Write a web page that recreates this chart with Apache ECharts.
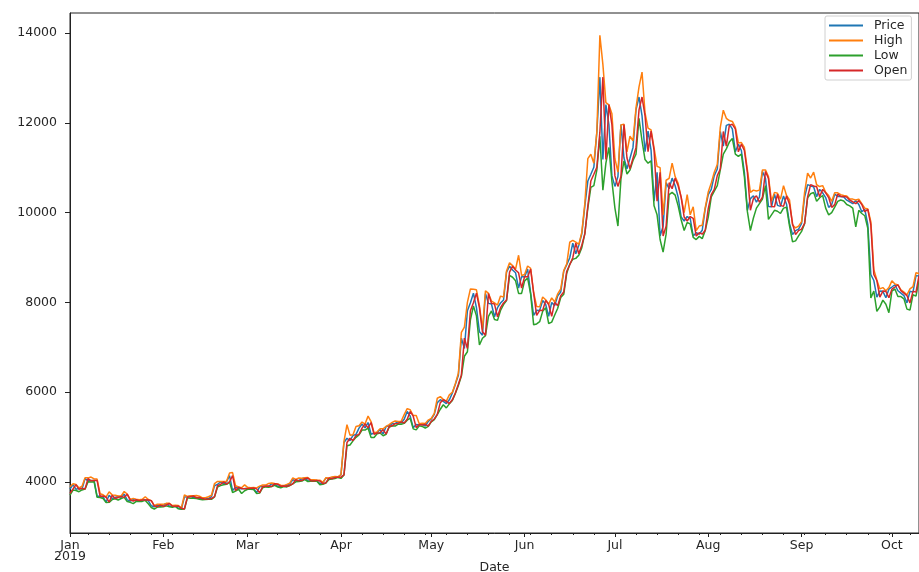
<!DOCTYPE html>
<html>
<head>
<meta charset="utf-8">
<script src="https://cdn.jsdelivr.net/npm/echarts@6/dist/echarts.min.js"></script>
<style>
  html, body { margin: 0; padding: 0; background: #fff; }
  #btcChart { width: 919px; height: 572px; }
</style>
</head>
<body>
<div id="btcChart"></div>
<script>
// daily values, 2019-01-01 .. 2019-10-10
const price = [
  3844, 3943, 3837, 3858, 3845, 4077, 4025, 4031, 4035, 3679, 3687, 3661, 3553, 3706, 3631, 3655, 3679, 3658, 3729, 3601, 3576, 3605, 3585, 3601, 3600, 3602, 3584, 3470, 3448, 3486, 3458,
  3488, 3521, 3464, 3459, 3466, 3414, 3399, 3667, 3671, 3690, 3648, 3654, 3632, 3617, 3621, 3630, 3674, 3916, 3947, 4000, 3954, 4006, 4143, 3810, 3883, 3854, 3851, 3855,
  3860, 3864, 3847, 3762, 3896, 3904, 3911, 3901, 3963, 3952, 3905, 3909, 3907, 3924, 3961, 4049, 4025, 4033, 4071, 4087, 4029, 4024, 4036, 4022, 3963, 3985, 4087, 4069, 4098, 4107, 4105,
  4158, 4880, 4973, 4923, 5037, 5060, 5199, 5290, 5205, 5325, 5064, 5090, 5097, 5168, 5067, 5236, 5252, 5298, 5304, 5338, 5315, 5399, 5572, 5465, 5211, 5279, 5268, 5285, 5247, 5351,
  5403, 5505, 5768, 5831, 5796, 5747, 5830, 5982, 6175, 6379, 7205, 6972, 7815, 7994, 8205, 7885, 7344, 7271, 8198, 7978, 7963, 7680, 7882, 7987, 8053, 8673, 8806, 8720, 8659, 8319, 8575,
  8564, 8743, 8209, 7708, 7824, 7822, 8044, 7954, 7688, 8000, 7928, 8146, 8231, 8694, 8838, 8994, 9320, 9082, 9274, 9527, 10145, 10702, 10855, 11011, 11791, 13016, 11183, 12407, 11959, 10817,
  10583, 10802, 11961, 11215, 10978, 11209, 11451, 12286, 12574, 12157, 11359, 11816, 11392, 10256, 10895, 9478, 9694, 10666, 10531, 10767, 10599, 10343, 9901, 9812, 9912, 9870, 9478, 9553, 9519, 9607, 10086,
  10400, 10518, 10822, 10970, 11806, 11478, 11942, 11966, 11863, 11354, 11524, 11383, 10896, 10052, 10312, 10374, 10232, 10346, 10916, 10763, 10138, 10131, 10408, 10160, 10139, 10371, 10186, 9754, 9510, 9598, 9631,
  9758, 10347, 10624, 10594, 10576, 10353, 10517, 10441, 10335, 10116, 10178, 10410, 10361, 10358, 10348, 10277, 10241, 10198, 10266, 10182, 10020, 10070, 9729, 8621, 8487, 8119, 8252, 8246, 8104, 8294,
  8343, 8393, 8260, 8206, 8152, 7988, 8246, 8229, 8596, 8586
];

const high = [
  3895, 3963, 3945, 3866, 3905, 4093, 4092, 4110, 4068, 4064, 3738, 3715, 3669, 3782, 3713, 3704, 3686, 3689, 3788, 3732, 3611, 3635, 3618, 3607, 3613, 3671, 3609, 3585, 3475, 3507, 3504,
  3502, 3524, 3525, 3474, 3483, 3476, 3425, 3711, 3678, 3693, 3696, 3697, 3683, 3648, 3648, 3672, 3704, 3966, 4012, 4009, 4013, 4017, 4200, 4210, 3915, 3890, 3873, 3936,
  3881, 3874, 3875, 3868, 3908, 3934, 3931, 3968, 3979, 3968, 3958, 3928, 3920, 3946, 3975, 4092, 4055, 4089, 4082, 4096, 4100, 4050, 4052, 4043, 4039, 3993, 4094, 4089, 4113, 4122, 4115,
  4164, 4906, 5275, 5043, 5053, 5236, 5253, 5336, 5290, 5467, 5346, 5093, 5117, 5186, 5185, 5239, 5277, 5328, 5359, 5346, 5351, 5500, 5633, 5609, 5479, 5480, 5298, 5311, 5303, 5378,
  5418, 5530, 5865, 5900, 5840, 5800, 5940, 6000, 6190, 6420, 7330, 7450, 8000, 8300, 8290, 8280, 7930, 7400, 8260, 8200, 8030, 7990, 7940, 8140, 8120, 8700, 8880, 8820, 8740, 9050, 8600,
  8620, 8810, 8760, 8220, 7910, 7900, 8120, 8060, 7960, 8100, 8010, 8190, 8300, 8710, 8860, 9340, 9380, 9340, 9290, 9560, 10200, 11200, 11300, 11100, 11800, 13950, 13300, 12450, 12400, 12200,
  11200, 10900, 11950, 11970, 11350, 11700, 11600, 12330, 12800, 13130, 12220, 11880, 11840, 11440, 11030, 11000, 9950, 10720, 10760, 11100, 10800, 10650, 10340, 10000, 10400, 9950, 10130, 9600, 9700, 9720, 10110,
  10460, 10660, 10900, 11070, 11900, 12280, 12100, 12050, 12030, 11900, 11550, 11560, 11450, 10950, 10450, 10500, 10480, 10500, 10950, 10950, 10800, 10250, 10450, 10430, 10300, 10600, 10380, 10280, 9720, 9660, 9700,
  9800, 10450, 10880, 10770, 10900, 10620, 10580, 10600, 10450, 10380, 10250, 10440, 10440, 10400, 10380, 10370, 10300, 10300, 10280, 10300, 10200, 10100, 10080, 9800, 8730, 8500, 8300, 8330, 8260, 8330,
  8480, 8410, 8390, 8280, 8230, 8170, 8300, 8350, 8660, 8640
];

const low = [
  3707, 3821, 3812, 3784, 3823, 3841, 4004, 3998, 4006, 3660, 3653, 3633, 3544, 3547, 3607, 3626, 3600, 3633, 3658, 3565, 3547, 3519, 3570, 3565, 3568, 3590, 3514, 3431, 3398, 3442, 3444,
  3448, 3468, 3446, 3437, 3454, 3402, 3392, 3396, 3647, 3640, 3640, 3633, 3617, 3603, 3609, 3617, 3615, 3666, 3887, 3919, 3937, 3947, 3997, 3765, 3800, 3838, 3743, 3806,
  3839, 3840, 3833, 3742, 3752, 3872, 3891, 3880, 3899, 3926, 3889, 3873, 3899, 3891, 3922, 3959, 4004, 4009, 4022, 4055, 4011, 4018, 4017, 4014, 3940, 3949, 3978, 4055, 4065, 4078, 4102,
  4080, 4155, 4807, 4825, 4917, 4995, 5050, 5158, 5156, 5202, 4992, 4993, 5074, 5090, 5030, 5063, 5220, 5251, 5246, 5290, 5288, 5305, 5378, 5420, 5183, 5160, 5250, 5238, 5200, 5240,
  5338, 5390, 5500, 5620, 5720, 5650, 5740, 5815, 5970, 6150, 6360, 6800, 6900, 7610, 7920, 7700, 7050, 7200, 7260, 7690, 7810, 7620, 7600, 7820, 7950, 8040, 8600, 8560, 8480, 8200, 8200,
  8480, 8540, 8190, 7500, 7520, 7570, 7800, 7880, 7530, 7560, 7720, 7870, 8110, 8180, 8650, 8850, 8960, 8980, 9050, 9220, 9530, 10100, 10560, 10600, 10950, 11700, 10500, 11100, 11450, 10700,
  10100, 9700, 10750, 11150, 10860, 10950, 11160, 11300, 12100, 11600, 11180, 11100, 11150, 10150, 9950, 9400, 9120, 9520, 10400, 10450, 10390, 10150, 9840, 9600, 9780, 9750, 9450, 9400, 9470, 9420, 9600,
  9900, 10350, 10480, 10600, 10950, 11300, 11420, 11570, 11650, 11300, 11250, 11300, 10800, 10020, 9600, 9880, 10100, 10200, 10300, 10600, 9850, 9950, 10050, 10030, 9980, 10100, 10120, 9700, 9350, 9370, 9480,
  9580, 9750, 10330, 10420, 10450, 10250, 10330, 10380, 10100, 9950, 10000, 10120, 10250, 10280, 10260, 10180, 10150, 10100, 9680, 10050, 9980, 9930, 9650, 8100, 8250, 7800, 7900, 8050, 7960, 7770,
  8250, 8300, 8130, 8130, 8080, 7850, 7830, 8170, 8140, 8500
];

const open = [
  3747, 3844, 3943, 3837, 3858, 3845, 4077, 4025, 4031, 4035, 3679, 3687, 3661, 3553, 3706, 3631, 3655, 3679, 3658, 3729, 3601, 3576, 3605, 3585, 3601, 3600, 3602, 3584, 3470, 3448, 3486,
  3458, 3488, 3521, 3464, 3459, 3466, 3414, 3399, 3667, 3671, 3690, 3648, 3654, 3632, 3617, 3621, 3630, 3674, 3916, 3947, 4000, 3954, 4006, 4143, 3810, 3883, 3854, 3851,
  3855, 3860, 3864, 3847, 3762, 3896, 3904, 3911, 3901, 3963, 3952, 3905, 3909, 3907, 3924, 3961, 4049, 4025, 4033, 4071, 4087, 4029, 4024, 4036, 4022, 3963, 3985, 4087, 4069, 4098, 4107,
  4105, 4158, 4880, 4973, 4923, 5037, 5060, 5199, 5290, 5205, 5325, 5064, 5090, 5097, 5168, 5067, 5236, 5252, 5298, 5304, 5338, 5315, 5399, 5572, 5465, 5211, 5279, 5268, 5285, 5247,
  5351, 5403, 5505, 5768, 5831, 5796, 5747, 5830, 5982, 6175, 6379, 7205, 6972, 7815, 7994, 8205, 7885, 7344, 7271, 8198, 7978, 7963, 7680, 7882, 7987, 8053, 8673, 8806, 8720, 8659, 8319,
  8575, 8564, 8743, 8209, 7708, 7824, 7822, 8044, 7954, 7688, 8000, 7928, 8146, 8231, 8694, 8838, 8994, 9320, 9082, 9274, 9527, 10145, 10702, 10855, 11011, 11791, 13016, 11183, 12407, 11959,
  10817, 10583, 10802, 11961, 11215, 10978, 11209, 11451, 12286, 12574, 12157, 11359, 11816, 11392, 10256, 10895, 9478, 9694, 10666, 10531, 10767, 10599, 10343, 9901, 9812, 9912, 9870, 9478, 9553, 9519, 9607,
  10086, 10400, 10518, 10822, 10970, 11806, 11478, 11942, 11966, 11863, 11354, 11524, 11383, 10896, 10052, 10312, 10374, 10232, 10346, 10916, 10763, 10138, 10131, 10408, 10160, 10139, 10371, 10186, 9754, 9510, 9598,
  9631, 9758, 10347, 10624, 10594, 10576, 10353, 10517, 10441, 10335, 10116, 10178, 10410, 10361, 10358, 10348, 10277, 10241, 10198, 10266, 10182, 10020, 10070, 9729, 8621, 8487, 8119, 8252, 8246, 8104,
  8294, 8343, 8393, 8260, 8206, 8152, 7988, 8246, 8229, 8596
];

const monthNames = ['Jan', 'Feb', 'Mar', 'Apr', 'May', 'Jun', 'Jul', 'Aug', 'Sep', 'Oct'];
const yTicks = [4000, 6000, 8000, 10000, 12000, 14000];

// one category per day
let dates = [];
for (let i = 0; i < price.length; i++) {
  let d = new Date(Date.UTC(2019, 0, 1 + i));
  dates.push(d.toISOString().slice(0, 10));
}

const axisColor = '#222';
const textColor = '#262626';
const font = 'DejaVu Sans';

let chartDom = document.getElementById('btcChart');
let myChart = echarts.init(chartDom);

let option = {
  animation: false,
  backgroundColor: '#fff',
  textStyle: { fontFamily: font },
  grid: {
    left: 70,
    right: 0,
    top: 13,
    bottom: 39,
    outerBoundsMode: 'none',
    show: true,
    borderColor: axisColor,
    borderWidth: 1
  },
  legend: {
    orient: 'vertical',
    left: 825,
    top: 16,
    padding: [3, 4, 3, 4],
    itemGap: 2,
    itemWidth: 34,
    itemHeight: 2,
    icon: 'rect',
    borderColor: '#d0d0d0',
    borderWidth: 1,
    borderRadius: 2,
    backgroundColor: 'rgba(255,255,255,0.8)',
    textStyle: { fontSize: 12.5, color: textColor, fontFamily: font, lineHeight: 12.5, padding: [0, 0, 0, 6] },
    data: ['Price', 'High', 'Low', 'Open']
  },
  xAxis: [
    {
      type: 'category',
      data: dates,
      boundaryGap: false,
      name: 'Date',
      nameLocation: 'middle',
      nameGap: 28,
      nameMoveOverlap: false,
      nameTextStyle: { fontSize: 12.5, color: textColor, fontFamily: font },
      axisLine: { show: true, lineStyle: { color: axisColor, width: 1 } },
      axisTick: {
        show: true,
        length: 4,
        lineStyle: { color: axisColor },
        interval: function (index, value) { return value.slice(8) === '01'; }
      },
      axisLabel: {
        show: true,
        margin: 7,
        fontSize: 12.5,
        lineHeight: 11,
        color: textColor,
        fontFamily: font,
        interval: function (index, value) { return value.slice(8) === '01'; },
        formatter: function (value, index) {
          let m = monthNames[parseInt(value.slice(5, 7), 10) - 1];
          return index === 0 ? m + '\n2019' : m;
        }
      },
      splitLine: { show: false }
    },
    {
      // weekly minor ticks
      type: 'category',
      data: dates,
      boundaryGap: false,
      position: 'bottom',
      axisLine: { show: false },
      axisLabel: { show: false },
      axisTick: {
        show: true,
        length: 2,
        lineStyle: { color: axisColor },
        interval: function (index, value) {
          return new Date(value + 'T00:00:00Z').getUTCDay() === 1 && value.slice(8) !== '01';
        }
      },
      splitLine: { show: false }
    }
  ],
  yAxis: {
    type: 'value',
    min: 2864,
    max: 14445,
    axisLine: { show: true, lineStyle: { color: axisColor, width: 1 } },
    axisTick: { show: true, length: 5, lineStyle: { color: axisColor }, customValues: yTicks },
    axisLabel: {
      fontSize: 12.5,
      color: textColor,
      fontFamily: font,
      margin: 13,
      customValues: yTicks,
      formatter: function (v) { return String(v); }
    },
    splitLine: { show: false }
  },
  series: [
    { name: 'Price', type: 'line', data: price, symbol: 'none', color: '#1f77b4', lineStyle: { width: 1.5 } },
    { name: 'High', type: 'line', data: high, symbol: 'none', color: '#ff7f0e', lineStyle: { width: 1.5 } },
    { name: 'Low', type: 'line', data: low, symbol: 'none', color: '#2ca02c', lineStyle: { width: 1.5 } },
    { name: 'Open', type: 'line', data: open, symbol: 'none', color: '#d62728', lineStyle: { width: 1.5 } }
  ]
};

option && myChart.setOption(option);
</script>
</body>
</html>
